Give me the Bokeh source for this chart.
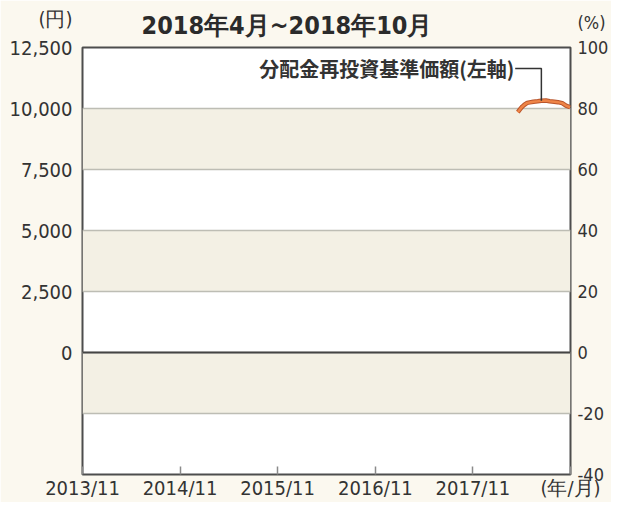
import pandas as pd
from bokeh.plotting import figure
from bokeh.models import (Range1d, FixedTicker, NumeralTickFormatter, Span, Label,
                          LinearAxis)
from bokeh.embed import file_html
from bokeh.resources import INLINE

# ---------------- data ----------------
nav_dates = ["2018-04-18", "2018-04-25", "2018-05-02", "2018-05-09", "2018-05-16",
             "2018-05-23", "2018-06-01", "2018-06-15", "2018-07-01", "2018-07-15",
             "2018-08-01", "2018-08-15", "2018-09-01", "2018-09-15", "2018-10-01",
             "2018-10-15", "2018-10-31"]
nav_values = [9850, 9950, 10050, 10120, 10180, 10230, 10250, 10280, 10300, 10320,
              10330, 10300, 10280, 10260, 10220, 10120, 10050]

left_ticks = [0, 2500, 5000, 7500, 10000, 12500]
left_labels = ["0", "2,500", "5,000", "7,500", "10,000", "12,500"]
grid_ticks = [-5000, -2500, 0, 2500, 5000, 7500, 10000, 12500]
pct_ticks = [100, 80, 60, 40, 20, 0, -20, -40]
pct_labels = ["100", "80", "60", "40", "20", "0", "-20", "-40"]
x_tick_dates = ["2013-11-01", "2014-11-01", "2015-11-01", "2016-11-01",
                "2017-11-01", "2018-11-01"]
x_tick_labels = ["2013/11", "2014/11", "2015/11", "2016/11", "2017/11", "(年/月)"]

unit_left = "(円)"
unit_right = "(%)"
title_text = "2018年4月~2018年10月"
series_name = "分配金再投資基準価額(左軸)"
leader_index = 9          # data point the callout line points to
leader_y = 11640          # height of the callout text (left-axis units)
leader_start = "2018-04-08"


def ms(s):
    return pd.Timestamp(s).value / 1e6


nav_x = [ms(d) for d in nav_dates]
x_ticks_ms = [ms(d) for d in x_tick_dates]

TICK_FONT = "DejaVu Sans Condensed"
JP_FONT = "Noto Sans CJK JP"
TEXT = "#333333"

p = figure(width=611, height=502, x_axis_type="datetime",
           x_range=Range1d(ms("2013-11-01"), ms("2018-11-01")),
           y_range=Range1d(-5000, 12500),
           output_backend="svg", toolbar_location=None,
           min_border_left=82, min_border_right=20,
           min_border_top=46, min_border_bottom=20)
p.extra_y_ranges = {"pct": Range1d(-40, 100)}

p.background_fill_color = "white"
p.border_fill_color = "#FBF8EF"
p.outline_line_color = "#4d4d4d"
p.outline_line_width = 2

# title
p.title.text = title_text
p.title.align = "left"
p.title.offset = 59
p.title.standoff = 16
p.title.text_font = TICK_FONT
p.title.text_font_size = "25px"
p.title.text_font_style = "bold"
p.title.text_color = "#2b2b2b"

# grid + bands
p.xgrid.grid_line_color = None
p.ygrid.ticker = FixedTicker(ticks=grid_ticks)
p.ygrid.grid_line_color = "#BDBDB4"
p.ygrid.grid_line_width = 1.5
p.ygrid.band_fill_color = "#F3F0E4"
p.ygrid.band_fill_alpha = 1.0

# left axis (unit label stacked above the top tick label)
left_over = dict(zip(left_ticks, left_labels))
left_over[left_ticks[-1]] = unit_left + "\n" + left_labels[-1] + "\n"
ya = p.yaxis[0]
ya.ticker = FixedTicker(ticks=left_ticks)
ya.formatter = NumeralTickFormatter(format="0,0")
ya.major_label_overrides = left_over
ya.axis_line_color = None
ya.major_tick_in = 0
ya.major_tick_out = 0
ya.minor_tick_line_color = None
ya.major_label_standoff = 10
ya.major_label_text_font = TICK_FONT
ya.major_label_text_font_size = "20px"
ya.major_label_text_color = TEXT

# right axis (%)
right_over = dict(zip(pct_ticks, pct_labels))
right_over[pct_ticks[0]] = unit_right + "\n" + pct_labels[0] + "\n"
ra = LinearAxis(y_range_name="pct", ticker=FixedTicker(ticks=pct_ticks),
                major_label_overrides=right_over)
ra.axis_line_color = None
ra.major_tick_in = 0
ra.major_tick_out = 0
ra.minor_tick_line_color = None
ra.major_label_standoff = 7
ra.major_label_text_font = TICK_FONT
ra.major_label_text_font_size = "18px"
ra.major_label_text_color = TEXT
p.add_layout(ra, "right")

# bottom axis
xa = p.xaxis[0]
xa.ticker = FixedTicker(ticks=x_ticks_ms)
xa.major_label_overrides = dict(zip(x_ticks_ms, x_tick_labels))
xa.axis_line_color = None
xa.major_tick_in = 8
xa.major_tick_out = 0
xa.major_tick_line_color = "#8a8a8a"
xa.major_tick_line_width = 1.5
xa.minor_tick_line_color = None
xa.major_label_standoff = 1
xa.major_label_text_font = TICK_FONT
xa.major_label_text_font_size = "20px"
xa.major_label_text_color = TEXT

# zero line
p.add_layout(Span(location=0, dimension="width", line_color="#444444", line_width=2))

# series (darker rim under an orange core)
p.line(nav_x, nav_values, line_color="#B9552B", line_width=4.5)
p.line(nav_x, nav_values, line_color="#EE8447", line_width=2.5)

# callout leader line and text
lx = nav_x[leader_index]
p.line([ms(leader_start), lx, lx], [leader_y, leader_y, nav_values[leader_index]],
       line_color="#333333", line_width=1.5)
p.add_layout(Label(x=ms(leader_start) - 3 * 86400000, y=leader_y, text=series_name,
                   text_align="right", text_baseline="middle",
                   text_font=JP_FONT, text_font_style="bold",
                   text_font_size="20px", text_color=TEXT))

open("out.html", "w").write(file_html(p, INLINE))
